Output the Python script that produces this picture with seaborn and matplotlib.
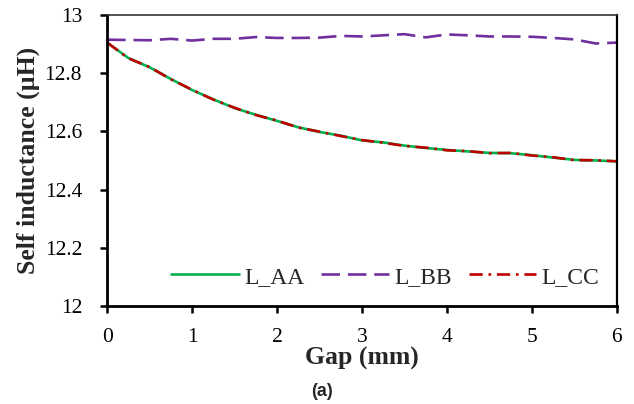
import numpy as np
import pandas as pd
import seaborn as sns
import matplotlib.pyplot as plt
from matplotlib.ticker import FuncFormatter

# gap values (mm)
gap = [0, 0.25, 0.5, 0.75, 1.0, 1.25, 1.5, 1.75, 2.0, 2.25, 2.5, 2.75, 3.0,
       3.25, 3.5, 3.75, 4.0, 4.25, 4.5, 4.75, 5.0, 5.25, 5.5, 5.75, 6.0]

L_AA = [12.905, 12.852, 12.820, 12.780, 12.742, 12.710, 12.680, 12.657, 12.636,
        12.614, 12.598, 12.585, 12.569, 12.562, 12.551, 12.543, 12.536, 12.531,
        12.526, 12.525, 12.518, 12.510, 12.502, 12.500, 12.497]
L_BB = [12.915, 12.914, 12.913, 12.918, 12.912, 12.918, 12.918, 12.924, 12.921,
        12.921, 12.922, 12.928, 12.926, 12.930, 12.934, 12.923, 12.933, 12.930,
        12.926, 12.926, 12.925, 12.921, 12.916, 12.902, 12.905]
L_CC = [12.905, 12.851, 12.821, 12.779, 12.743, 12.709, 12.681, 12.656, 12.637,
        12.613, 12.599, 12.584, 12.570, 12.561, 12.550, 12.544, 12.535, 12.532,
        12.525, 12.526, 12.517, 12.511, 12.501, 12.501, 12.497]

series = ["L_AA", "L_BB", "L_CC"]
colors = {"L_AA": "#00B050", "L_BB": "#7030A0", "L_CC": "#C00000"}
dashes = {"L_AA": "", "L_BB": (7, 3), "L_CC": (5, 2.2, 1, 2.2)}

df = pd.DataFrame({
    "gap": gap * 3,
    "L": L_AA + L_BB + L_CC,
    "name": [s for s in series for _ in gap],
})

sns.set_style("ticks")
plt.rcParams["font.family"] = ["Liberation Serif", "DejaVu Serif"]

fig = plt.figure(figsize=(6.34, 4.04), dpi=100)
ax = fig.add_axes([0.169, 0.2426, 0.804, 0.7204])

sns.lineplot(data=df, x="gap", y="L", hue="name", style="name",
             palette=colors, dashes=dashes, linewidth=1.9, ax=ax,
             legend=False)

ax.set_xlim(0, 6)
ax.set_ylim(12, 13)
ax.set_xticks(range(0, 7))
ax.set_yticks(np.arange(12, 13.01, 0.2))
ax.yaxis.set_major_formatter(FuncFormatter(lambda v, p: f"{v:g}"))
ax.tick_params(axis="both", labelsize=15.5, direction="out", length=5,
               width=1.8, colors="black")
ax.tick_params(axis="y", pad=13)
ax.tick_params(axis="x", pad=11)

for side in ["left", "bottom"]:
    ax.spines[side].set_linewidth(2)
    ax.spines[side].set_color("black")
ax.spines["top"].set_linewidth(1.2)
ax.spines["top"].set_color("#333333")
ax.spines["right"].set_linewidth(1.6)
ax.spines["right"].set_color("black")

ax.set_xlabel("Gap (mm)", fontsize=18.5, fontweight="bold", labelpad=0)
ax.set_ylabel("Self inductance (\u00b5H)", fontsize=18.5, fontweight="bold",
              labelpad=3)

handles = ax.get_lines()
ax.legend(handles[:3], series, ncol=3, loc="lower center",
          bbox_to_anchor=(0.546, -0.01), frameon=False, fontsize=17,
          handlelength=2.85, handletextpad=0.25, columnspacing=0.7)

fig.text(0.508, 0.03, "(a)", fontsize=13, fontweight="bold",
         family="Liberation Sans", ha="center", va="center")

fig.savefig("out.png", dpi=100)
